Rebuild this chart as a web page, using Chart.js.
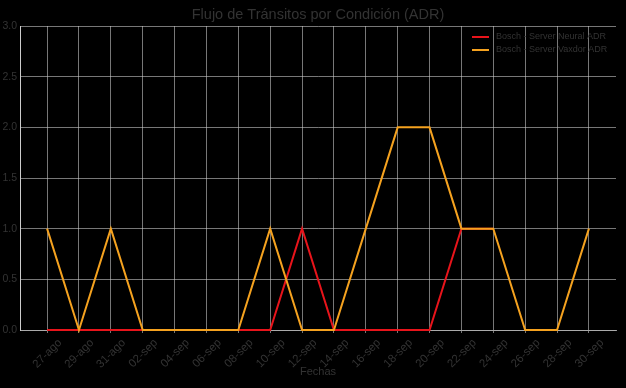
<!DOCTYPE html>
<html>
<head>
<meta charset="utf-8">
<script src="https://cdn.jsdelivr.net/npm/chart.js@4.4.1/dist/chart.umd.min.js"></script>
<style>
  html, body { margin: 0; padding: 0; background: #000; }
  #wrap { width: 626px; height: 388px; }
</style>
</head>
<body>
<div id="wrap"><canvas id="myChart" width="626" height="388"></canvas></div>
<script>
// Data
const fechas = ['27-ago', '29-ago', '31-ago', '02-sep', '04-sep', '06-sep', '08-sep', '10-sep', '12-sep',
                '14-sep', '16-sep', '18-sep', '20-sep', '22-sep', '24-sep', '26-sep', '28-sep', '30-sep'];
const neuralADR = [0, 0, 0, 0, 0, 0, 0, 0, 1, 0, 0, 0, 0, 1, 1, null, null, null];
const vaxdorADR = [1, 0, 1, 0, 0, 0, 0, 1, 0, 0, 1, 2, 2, 1, 1, 0, 0, 1];
const seriesNames = ['Bosch - Server Neural ADR', 'Bosch - Server Vaxdor ADR'];
const seriesColors = ['#e8141b', '#f5a21f'];
const yTicks = [0, 0.5, 1, 1.5, 2, 2.5, 3];
const chartTitle = 'Flujo de Tránsitos por Condición (ADR)';

const textColor = '#333333';
const fontFamily = '"Liberation Sans", Arial, sans-serif';

// title centred over the plot area, legend inside the plot (top right)
const titleAndLegend = {
    id: 'titleAndLegend',
    afterDatasetsDraw(chart) {
        const ctx = chart.ctx;
        const area = chart.chartArea;
        ctx.save();
        ctx.fillStyle = textColor;
        ctx.font = '14.5px ' + fontFamily;
        ctx.textAlign = 'center';
        ctx.textBaseline = 'middle';
        ctx.fillText(chartTitle, (area.left + area.right) / 2, 15);

        ctx.font = '9px ' + fontFamily;
        ctx.textAlign = 'left';
        chart.data.datasets.forEach((ds, i) => {
            const y = area.top + 11 + i * 13;
            const x = area.right - 144;
            ctx.strokeStyle = ds.borderColor;
            ctx.lineWidth = 2;
            ctx.beginPath();
            ctx.moveTo(x, y);
            ctx.lineTo(x + 17, y);
            ctx.stroke();
            ctx.fillStyle = textColor;
            ctx.fillText(ds.label, x + 24, y);
        });
        ctx.restore();
    }
};

document.addEventListener('DOMContentLoaded', () => {
    const ctx = document.getElementById('myChart').getContext('2d');

    const datasets = [neuralADR, vaxdorADR].map((values, i) => ({
        label: seriesNames[i],
        data: fechas.map((f, j) => ({ x: j, y: values[j] })),
        borderColor: seriesColors[i],
        backgroundColor: seriesColors[i],
        borderWidth: 2,
        pointRadius: 0,
        tension: 0,
        clip: false,
        order: i === 0 ? 1 : 0   // orange drawn on top
    }));

    new Chart(ctx, {
        type: 'line',
        data: { datasets: datasets },
        plugins: [titleAndLegend],
        options: {
            responsive: false,
            animation: false,
            layout: { padding: { left: 0, right: 10, top: 26, bottom: 0 } },
            plugins: {
                legend: { display: false },
                tooltip: { enabled: false },
                title: { display: false }
            },
            scales: {
                x: {
                    type: 'linear',
                    min: -0.85,
                    max: fechas.length - 1 + 0.85,
                    afterBuildTicks: (scale) => {
                        scale.ticks = fechas.map((f, i) => ({ value: i }));
                    },
                    afterFit: (scale) => { scale.height = 58; },
                    ticks: {
                        autoSkip: false,
                        minRotation: 45,
                        maxRotation: 45,
                        color: textColor,
                        font: { family: fontFamily, size: 11.5 },
                        padding: 3,
                        labelOffset: 13,
                        callback: (v) => fechas[v]
                    },
                    grid: { color: 'rgba(200,200,200,0.75)', lineWidth: 0.8, drawTicks: true, tickLength: 3 },
                    border: { color: '#aaaaaa', width: 1 },
                    title: {
                        display: true,
                        text: 'Fechas',
                        color: textColor,
                        font: { family: fontFamily, size: 11 },
                        padding: { top: 0, bottom: 9 }
                    }
                },
                y: {
                    min: 0,
                    max: 3,
                    afterBuildTicks: (scale) => {
                        scale.ticks = yTicks.map(v => ({ value: v }));
                    },
                    afterFit: (scale) => { scale.width = 20; },
                    ticks: {
                        color: textColor,
                        font: { family: fontFamily, size: 10.5 },
                        padding: 3,
                        callback: (v) => v.toFixed(1)
                    },
                    grid: { color: 'rgba(200,200,200,0.75)', lineWidth: 0.8, drawTicks: false },
                    border: { color: '#cccccc', width: 1 }
                }
            }
        }
    });
});
</script>
</body>
</html>
